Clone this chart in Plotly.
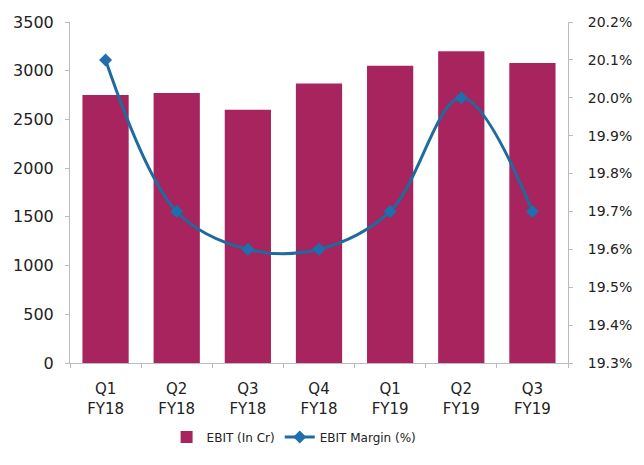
import plotly.graph_objects as go

categories = ["Q1<br>FY18", "Q2<br>FY18", "Q3<br>FY18", "Q4<br>FY18", "Q1<br>FY19", "Q2<br>FY19", "Q3<br>FY19"]
ebit = [2750, 2770, 2600, 2870, 3050, 3200, 3080]
margin = [20.1, 19.7, 19.6, 19.6, 19.7, 20.0, 19.7]
left_ticks = [0, 500, 1000, 1500, 2000, 2500, 3000, 3500]
right_ticks = [19.3, 19.4, 19.5, 19.6, 19.7, 19.8, 19.9, 20.0, 20.1, 20.2]

fig = go.Figure()
fig.add_trace(go.Bar(x=categories, y=ebit, name="EBIT (In Cr)", marker_color="#A8245E",
                     marker_line_width=0))
fig.add_trace(go.Scatter(x=categories, y=margin, name="EBIT Margin (%)", yaxis="y2",
                         mode="lines+markers", line=dict(color="#1F6A9E", width=3, shape="spline", smoothing=1),
                         marker=dict(symbol="diamond", size=10, color="#1D6FAE")))

fam = "DejaVu Sans, sans-serif"
fig.update_layout(
    width=644, height=465,
    margin=dict(l=70, r=76, t=22, b=102),
    paper_bgcolor="white", plot_bgcolor="white",
    font=dict(family=fam, size=14, color="#222222"),
    bargap=0.35,
    showlegend=True,
    legend=dict(orientation="h", x=0.45, xanchor="center", y=-0.217, yanchor="middle",
                font=dict(family=fam, size=12, color="#222222")),
    xaxis=dict(showline=True, linecolor="#BBBBBB", linewidth=1, ticks="outside", tickson="boundaries",
               ticklen=4, tickcolor="#BBBBBB", ticklabelstandoff=12,
               tickfont=dict(family=fam, size=15, color="#222222")),
    yaxis=dict(range=[0, 3500], tickvals=left_ticks, showgrid=False, showline=True, linecolor="#BBBBBB",
               ticks="outside", ticklen=4, tickcolor="#BBBBBB", zeroline=False, ticklabelstandoff=8,
               tickfont=dict(family=fam, size=16, color="#222222")),
    yaxis2=dict(range=[19.3, 20.2], tickvals=right_ticks, ticktext=[f"{v:.1f}%" for v in right_ticks],
                overlaying="y", side="right", showgrid=False, showline=True, linecolor="#BBBBBB",
                ticks="outside", ticklen=4, tickcolor="#BBBBBB", zeroline=False, ticklabelstandoff=12,
                tickfont=dict(family=fam, size=14, color="#222222")),
)
fig.write_html("out.html")
